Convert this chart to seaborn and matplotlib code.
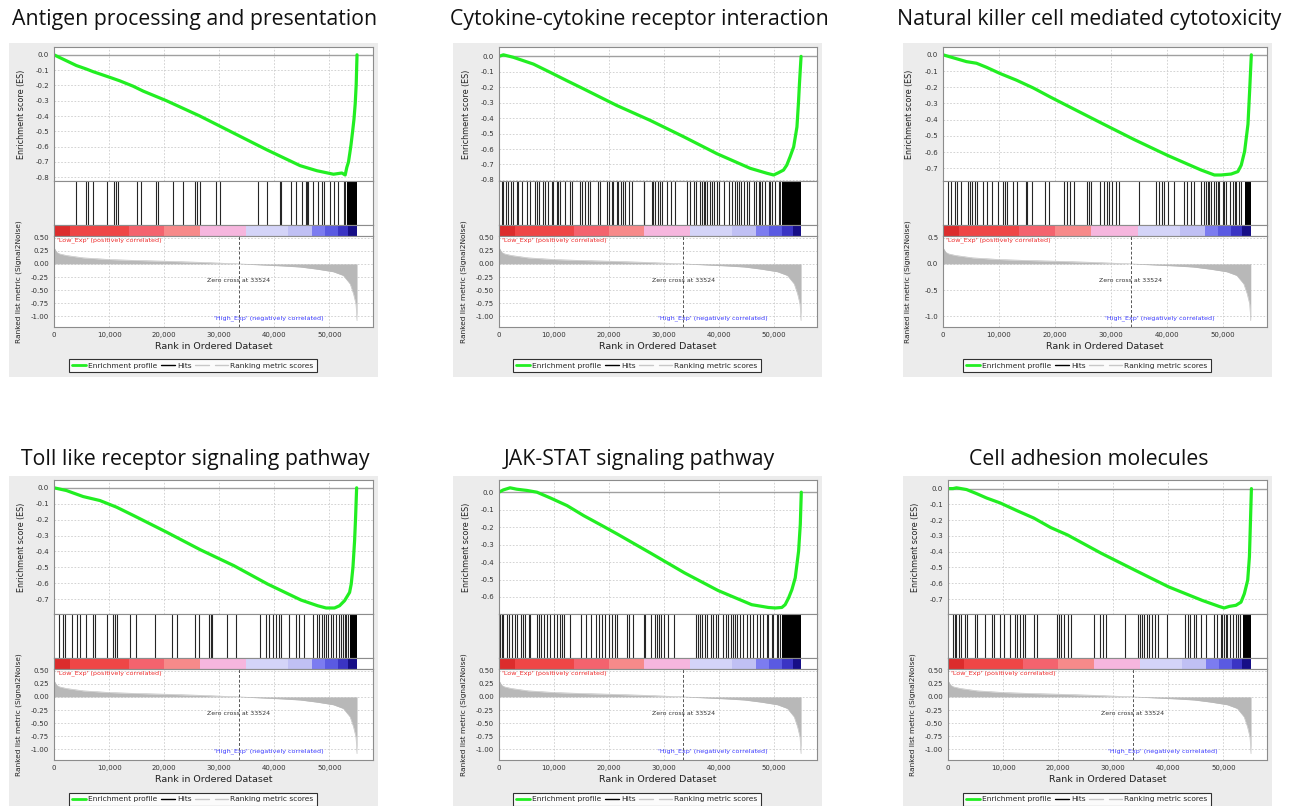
import matplotlib
matplotlib.use("Agg")
import matplotlib.pyplot as plt
import seaborn as sns
import pandas as pd
from matplotlib.lines import Line2D
from matplotlib.patches import Rectangle
from matplotlib.ticker import FuncFormatter, MultipleLocator

titles = ["Antigen processing and presentation", "Cytokine-cytokine receptor interaction",
          "Natural killer cell mediated cytotoxicity", "Toll like receptor signaling pathway",
          "JAK-STAT signaling pathway", "Cell adhesion molecules"]

# ranked list metric (Signal2Noise), same ranked list in every panel
metric_rank = [0, 500, 1000, 2250, 5300, 10100, 15000, 20400, 26500, 30000, 33524, 35600,
               41600, 44700, 47700, 50700, 52500, 53750, 54360, 54800, 55000]
metric_value = [0.31, 0.22, 0.19, 0.16, 0.115, 0.083, 0.065, 0.05, 0.03, 0.015, 0.0, -0.01,
                -0.04, -0.06, -0.1, -0.15, -0.22, -0.38, -0.57, -0.76, -1.08]
zero_cross = 33524

# colour bar blocks along the ranked list
cbar_edges = [0, 2850, 13580, 20000, 26480, 34790, 42420, 46790, 49210, 51500, 53450, 55000]
cbar_colors = ['#dc2c2c', '#ef4646', '#f4636e', '#f78a8a', '#f6b6de', '#d4d4f8', '#c0c0f4',
               '#7c7cf0', '#5a5ae2', '#3a34c4', '#160e86']

# running enrichment score
es_rank_1 = [0, 4060, 5880, 7090, 10120, 11940, 14360, 16180, 20420, 26480, 32540, 38600, 44670,
             47700, 50730, 52250, 52850, 53150, 53450, 53700, 53900, 54200, 54450, 54670, 54850, 55000]
es_val_1 = [0.0, -0.07, -0.093, -0.11, -0.147, -0.17, -0.205, -0.237, -0.30, -0.40, -0.51, -0.62, -0.724,
            -0.757, -0.78, -0.772, -0.785, -0.735, -0.70, -0.64, -0.59, -0.50, -0.42, -0.32, -0.195, 0.0]
es_rank_2 = [0, 800, 2600, 6260, 9300, 12330, 15370, 21450, 27500, 33600, 39670, 45750, 48800, 50000,
             50900, 51800, 52400, 53000, 53650, 54250, 54550, 54700, 55000]
es_val_2 = [0.0, 0.01, -0.006, -0.05, -0.103, -0.157, -0.21, -0.318, -0.414, -0.52, -0.63, -0.725, -0.757,
            -0.768, -0.753, -0.736, -0.704, -0.65, -0.586, -0.457, -0.285, -0.18, 0.0]
es_rank_3 = [0, 4190, 5990, 7780, 10180, 13170, 16170, 19160, 22160, 28140, 34130, 40120, 46100, 48500,
             49700, 51500, 52700, 53300, 53900, 54500, 54800, 55100]
es_val_3 = [0.0, -0.042, -0.052, -0.077, -0.115, -0.157, -0.205, -0.26, -0.313, -0.418, -0.522, -0.62,
            -0.71, -0.741, -0.741, -0.735, -0.72, -0.68, -0.595, -0.428, -0.22, 0.0]
es_rank_4 = [0, 2250, 5290, 8330, 11370, 14420, 17460, 20500, 26580, 32660, 38750, 44830, 47870, 49390,
             50910, 51820, 52740, 53650, 53950, 54260, 54560, 54740, 54930]
es_val_4 = [0.0, -0.017, -0.055, -0.08, -0.122, -0.174, -0.227, -0.28, -0.39, -0.49, -0.605, -0.706, -0.742,
            -0.756, -0.756, -0.742, -0.71, -0.658, -0.605, -0.5, -0.332, -0.185, 0.0]
es_rank_5 = [0, 790, 2020, 3240, 5070, 6900, 9350, 12400, 15460, 18510, 21560, 27670, 33780, 39890, 46000,
             49050, 50270, 51500, 52100, 52720, 53330, 53940, 54550, 54860, 55040]
es_val_5 = [0.0, 0.013, 0.025, 0.017, 0.01, 0.0, -0.033, -0.077, -0.135, -0.187, -0.24, -0.35, -0.462,
            -0.563, -0.644, -0.66, -0.663, -0.66, -0.644, -0.606, -0.558, -0.49, -0.337, -0.183, 0.0]
es_rank_6 = [0, 920, 1550, 3360, 5200, 7030, 9470, 12530, 15590, 18640, 21700, 27810, 33920, 40040, 46150,
             49210, 50120, 51040, 52260, 53180, 53790, 54400, 54710, 54890, 55070]
es_val_6 = [0.0, 0.0, 0.005, -0.006, -0.032, -0.06, -0.091, -0.14, -0.187, -0.247, -0.294, -0.41, -0.517,
            -0.623, -0.709, -0.747, -0.757, -0.747, -0.74, -0.72, -0.666, -0.58, -0.432, -0.219, 0.0]

# gene set hits (rank positions); dense_* = stretch where hits merge into a solid block
hits_1 = [4000, 5760, 6180, 7030, 9700, 10850, 11270, 11640, 15090, 15880, 18550, 18850, 21580, 23450,
          25580, 25880, 26480, 29450, 30180, 37090, 38670, 41090, 41210, 43090, 43880, 44970, 45760,
          45940, 46180, 47030, 47880, 48610, 48970, 50180, 50790, 51520, 52610, 52850]
dense_1 = (53150, 55000)
hits_2 = [490, 790, 1280, 1700, 2190, 2610, 3220, 3520, 4130, 5160, 5650, 6560, 6870, 7350, 8080, 8380,
          8990, 9600, 9780, 10510, 10810, 11120, 12030, 12940, 13250, 14760, 15070, 15670, 16280, 16590,
          18100, 18410, 19620, 20110, 20530, 20840, 21450, 21750, 22180, 22540, 22960, 23750, 24180,
          26310, 26490, 27830, 28130, 28430, 28860, 29340, 29650, 30560, 31350, 32080, 34200, 34810,
          35420, 35900, 36640, 36940, 37240, 37550, 37850, 38340, 38760, 39060, 39670, 39980, 40890,
          41800, 42410, 43010, 43320, 43620, 44110, 44530, 45140, 45440, 46350, 46840, 47270, 47570,
          47870, 48480, 49090, 49390, 49700, 50300, 50910, 51220]
dense_2 = (51520, 55000)
hits_3 = [900, 1500, 2100, 2510, 3290, 4490, 4790, 5270, 5690, 6110, 7070, 7900, 8680, 9880, 10780,
          11080, 11500, 12570, 13170, 14850, 15090, 15870, 18260, 18860, 21560, 22160, 22750, 23470,
          25750, 26050, 26470, 28140, 28740, 29340, 29640, 30240, 30840, 31440, 35030, 38020, 38620,
          39220, 39520, 40120, 41320, 42990, 43590, 44310, 44910, 46110, 46710, 47010, 47310, 47600,
          47900, 48500, 48800, 49100, 49400, 50000, 50300, 50600, 51200, 51800, 52100, 52400, 52810, 53290]
dense_3 = (53890, 55000)
hits_4 = [910, 1640, 2010, 3350, 4260, 4680, 5780, 7000, 7420, 9550, 10770, 11070, 11500, 13810, 14900,
          18370, 21410, 22320, 25670, 26400, 28100, 28410, 28710, 31450, 32970, 37410, 38440, 39050,
          39660, 40270, 40880, 41180, 42700, 43920, 44530, 45320, 46960, 47750, 48180, 48600, 48970,
          49390, 49820, 50300, 50730, 51220, 51640, 52010, 52430, 52740, 53040, 53350]
dense_4 = (53650, 55000)
hits_5 = [180, 490, 790, 1410, 1890, 2320, 2930, 3240, 3970, 4340, 4760, 5380, 5680, 6900, 7210, 7640,
          8120, 8740, 9350, 9960, 10570, 11060, 11480, 11790, 13010, 14840, 15760, 16680, 17590, 18200,
          18810, 19240, 20040, 20650, 21080, 21560, 23270, 23700, 24310, 26450, 26630, 27670, 28410,
          28770, 29200, 29500, 30120, 30730, 31830, 35920, 36220, 36530, 36960, 37450, 37940, 38550,
          38970, 39590, 39890, 40810, 41420, 41720, 42330, 42640, 42940, 43250, 43860, 44470, 45080,
          45690, 46300, 46920, 47530, 48140, 48750, 49050, 49660, 49970, 50580, 50890, 51190]
dense_5 = (51500, 55000)
hits_6 = [920, 1220, 1530, 2020, 2440, 3060, 3360, 4890, 5320, 6720, 7950, 8370, 9470, 10090, 11310,
          12220, 12530, 13140, 13630, 14060, 15590, 16200, 19870, 20170, 20480, 21090, 21700, 22310,
          26590, 27630, 28120, 28730, 32210, 34540, 34840, 35150, 35640, 36060, 36490, 36980, 37590,
          38200, 39730, 43090, 43580, 44010, 44620, 44930, 45840, 46760, 48290, 48900, 49510, 49820,
          50120, 50430, 50730, 51220, 51650, 52260, 52570, 52990]
dense_6 = (53610, 55000)

es_ranks = [es_rank_1, es_rank_2, es_rank_3, es_rank_4, es_rank_5, es_rank_6]
es_vals = [es_val_1, es_val_2, es_val_3, es_val_4, es_val_5, es_val_6]
hits = [hits_1, hits_2, hits_3, hits_4, hits_5, hits_6]
dense = [dense_1, dense_2, dense_3, dense_4, dense_5, dense_6]

sns.set_style("white")
plt.rcParams['font.family'] = ['DejaVu Sans']
plt.rcParams['axes.unicode_minus'] = False

W, H = 1294, 806
fig = plt.figure(figsize=(W / 100, H / 100), dpi=100)

GREEN = '#22ee22'
SPINE = '#8c8c8c'
XMAX = 57900


def frac(x0, y0, x1, y1):
    return [x0 / W, 1 - y1 / H, (x1 - x0) / W, (y1 - y0) / H]


def style(ax, grid=True):
    for s in ax.spines.values():
        s.set_color(SPINE)
        s.set_linewidth(0.8)
    ax.set_xlim(0, XMAX)
    ax.xaxis.set_major_locator(MultipleLocator(10000))
    ax.tick_params(labelsize=5, length=2, width=0.5, color=SPINE, pad=1.5, labelcolor='#333333')
    if grid:
        ax.grid(True, color='#cccccc', linestyle=(0, (2, 2)), linewidth=0.6)
    ax.set_axisbelow(True)


box_x = [9, 453, 903]
box_y = [43, 476]
title_y = [20, 460]
left_pad = [45, 46, 40, 45, 46, 45]
metric_step = [0.25, 0.25, 0.5, 0.25, 0.25, 0.25]

for i in range(6):
    bx, by = box_x[i % 3], box_y[i // 3]
    fig.add_artist(Rectangle((bx / W, 1 - (by + 334) / H), 369 / W, 334 / H,
                             transform=fig.transFigure, facecolor='#ececec', edgecolor='none', zorder=0))
    fig.text((bx + 186) / W, 1 - title_y[i // 3] / H, titles[i], ha='center', va='center',
             fontsize=15.3, family='Open Sans', color='#111111')
    L, R = bx + left_pad[i], bx + 364

    # enrichment profile
    ax = fig.add_axes(frac(L, by + 4, R, by + 138))
    df = pd.DataFrame({"rank": es_ranks[i], "es": es_vals[i]})
    sns.lineplot(data=df, x="rank", y="es", ax=ax, color=GREEN, linewidth=2.3, legend=False,
                 solid_joinstyle='round', solid_capstyle='round')
    ax.axhline(0, color='#a0a0a0', lw=1, zorder=1)
    lo, hi = min(es_vals[i]), max(es_vals[i])
    ax.set_ylim(lo - 0.05 * (hi - lo), hi + 0.065 * (hi - lo))
    ax.yaxis.set_major_locator(MultipleLocator(0.1))
    ax.yaxis.set_major_formatter(FuncFormatter(lambda v, p: f"{v:.1f}"))
    style(ax)
    ax.set_xticklabels([])
    ax.tick_params(axis='x', length=0)
    ax.set_xlabel("")
    ax.set_ylabel("Enrichment score (ES)", fontsize=5.8, color='#222222')
    ax.yaxis.set_label_coords(-0.088, 0.5)

    # hits
    axh = fig.add_axes(frac(L, by + 138, R, by + 182))
    axh.vlines(hits[i], 0, 1, color='#262626', lw=0.8)
    axh.axvspan(dense[i][0], dense[i][1], color='black', lw=0)
    axh.set_ylim(0, 1)
    style(axh, grid=False)
    axh.set_xticks([])
    axh.set_yticks([])

    # colour bar
    axc = fig.add_axes(frac(L, by + 182, R, by + 193))
    for k in range(len(cbar_colors)):
        axc.axvspan(cbar_edges[k], cbar_edges[k + 1], color=cbar_colors[k], lw=0)
    style(axc, grid=False)
    axc.set_xticks([])
    axc.set_yticks([])

    # ranked list metric
    axm = fig.add_axes(frac(L, by + 193, R, by + 284))
    axm.fill_between(metric_rank, metric_value, 0, color='#b8b8b8', lw=0)
    sns.lineplot(x=metric_rank, y=metric_value, ax=axm, color='#b8b8b8', lw=0.4)
    axm.axvline(zero_cross, color='#555555', lw=0.7, ls=(0, (3, 2)))
    axm.set_ylim(-1.2, 0.53)
    step = metric_step[i]
    axm.yaxis.set_major_locator(MultipleLocator(step))
    fmt = "{:.2f}" if step < 0.5 else "{:.1f}"
    axm.yaxis.set_major_formatter(FuncFormatter(lambda v, p, f=fmt: f.format(v) if v > -1.1 else ""))
    axm.xaxis.set_major_formatter(FuncFormatter(lambda v, p: f"{int(v):,}"))
    style(axm)
    axm.text(500, 0.45, "'Low_Exp' (positively correlated)", color='#ee2a2a', fontsize=4.6,
             ha='left', va='center')
    axm.text(zero_cross, -0.32, "Zero cross at 33524", color='#333333', fontsize=4.5,
             ha='center', va='center')
    axm.text(29000, -1.04, "'High_Exp' (negatively correlated)", color='#3a3aff', fontsize=4.6,
             ha='left', va='center')
    axm.set_xlabel("Rank in Ordered Dataset", fontsize=6.8, color='#222222', labelpad=3)
    axm.set_ylabel("Ranked list metric (Signal2Noise)", fontsize=5.3, color='#222222')
    axm.yaxis.set_label_coords(-0.1, 0.5)

    handles = [Line2D([], [], color=GREEN, lw=2), Line2D([], [], color='black', lw=1),
               Line2D([], [], color='#c8c8c8', lw=1), Line2D([], [], color='#c8c8c8', lw=1)]
    labels = ['Enrichment profile', 'Hits', '', 'Ranking metric scores']
    leg = fig.legend(handles, labels, loc='center', bbox_to_anchor=((bx + 184) / W, 1 - (by + 323) / H),
                     ncol=4, fontsize=5.4, frameon=True, fancybox=False, edgecolor='black',
                     handlelength=1.8, handletextpad=0.3, columnspacing=0.5, borderpad=0.45)
    leg.get_frame().set_linewidth(0.8)

fig.savefig("out.png", dpi=100, facecolor='white')
